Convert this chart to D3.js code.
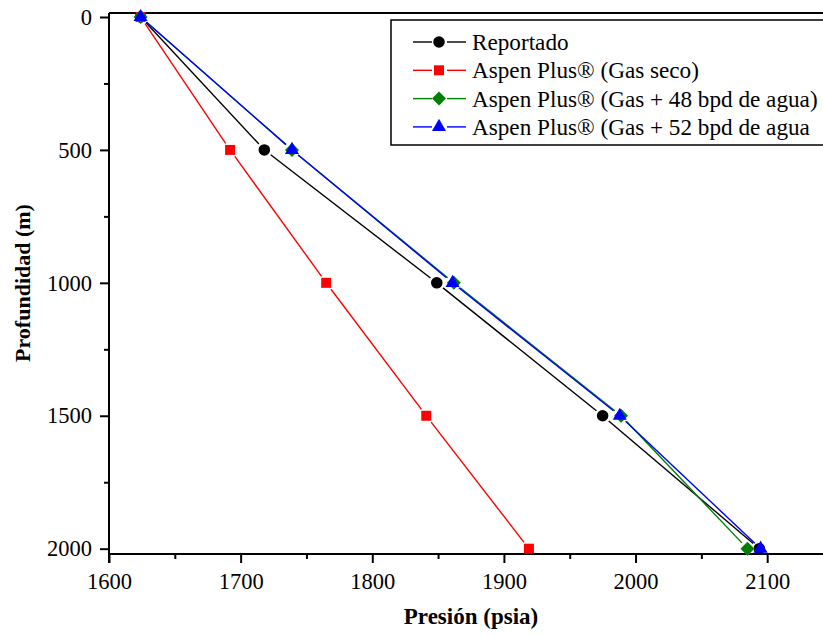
<!DOCTYPE html>
<html>
<head>
<meta charset="utf-8">
<script src="https://cdn.jsdelivr.net/npm/d3@7"></script>
<style>
  body { margin: 0; background: #fff; }
  svg { display: block; font-family: "Liberation Serif", "Times New Roman", serif; }
  .axis path, .axis line { stroke: #000; stroke-width: 2; }
  .axis text { font-size: 22.5px; fill: #000; font-family: "Liberation Serif", serif; }
  .title { font-weight: bold; }
  .legend text { font-size: 23.2px; }
</style>
</head>
<body>
<svg id="chart" width="823" height="636"></svg>
<script>
//depth (m) vs pressure (psia) for each series
var depths = [0, 500, 1000, 1500, 2000];
var reportado = [1624, 1718, 1849, 1975, 2094];
var gasSeco = [1624, 1692, 1765, 1841, 1919];
var gas48 = [1624, 1739, 1862, 1989, 2085];
var gas52 = [1624, 1739, 1861, 1988, 2095];

var seriesNames = ["Reportado", "Aspen Plus\u00ae (Gas seco)", "Aspen Plus\u00ae (Gas + 48 bpd de agua)", "Aspen Plus\u00ae (Gas + 52 bpd de agua"];
var seriesColors = ["#000000", "#ff0000", "#008000", "#0000ff"];
var seriesShapes = ["circle", "square", "diamond", "triangle"];
var seriesValues = [reportado, gasSeco, gas48, gas52];

var xTicks = [1600, 1700, 1800, 1900, 2000, 2100];
var yTicks = [0, 500, 1000, 1500, 2000];

var svg = d3.select("#chart");

let x = d3.scaleLinear().domain([1600, 2150]).range([109, 833]);
let y = d3.scaleLinear().domain([-15, 2020]).range([13, 554]);

//marker shapes (diamond = square turned 45deg)
let symbolFor = {
  circle: d3.symbol().type(d3.symbolCircle).size(105)(),
  square: d3.symbol().type(d3.symbolSquare).size(100)(),
  diamond: d3.symbol().type(d3.symbolSquare).size(98)(),
  triangle: d3.symbol().type(d3.symbolTriangle).size(85)()
};
let rotFor = {circle: 0, square: 0, diamond: 45, triangle: 0};

//top border line
svg.append("line")
  .attr("x1", x(1600)).attr("x2", x(2150))
  .attr("y1", y(-15)).attr("y2", y(-15))
  .attr("stroke", "#000").attr("stroke-width", 2);

//x axis (major + minor)
let xAxis = d3.axisBottom(x).tickValues(xTicks).tickSize(9).tickPadding(10).tickFormat(d3.format("d"));
let gx = svg.append("g").classed("axis", true)
  .attr("transform", "translate(0," + y(2020) + ")")
  .call(xAxis);
gx.select(".domain").attr("d", "M" + x(1600) + ",0H" + x(2150));
svg.append("g").classed("axis", true)
  .attr("transform", "translate(0," + y(2020) + ")")
  .call(d3.axisBottom(x).tickValues(d3.range(1650, 2150, 100)).tickSize(5).tickFormat(""))
  .select(".domain").remove();

//y axis (major + minor)
let yAxis = d3.axisLeft(y).tickValues(yTicks).tickSize(9).tickPadding(8).tickFormat(d3.format("d"));
let gy = svg.append("g").classed("axis", true)
  .attr("transform", "translate(" + x(1600) + ",0)")
  .call(yAxis);
gy.select(".domain").attr("d", "M0," + y(-15) + "V" + (y(2020) + 9));
svg.append("g").classed("axis", true)
  .attr("transform", "translate(" + x(1600) + ",0)")
  .call(d3.axisLeft(y).tickValues([250, 750, 1250, 1750]).tickSize(5).tickFormat(""))
  .select(".domain").remove();

//series lines, with a small gap around each marker
let gap = 8;
seriesValues.forEach(function(vals, i){
  let pts = vals.map((v, j) => [x(v), y(depths[j])]);
  let g = svg.append("g");
  for(let j = 0; j < pts.length - 1; j++){
    let a = pts[j], b = pts[j+1];
    let dx = b[0]-a[0], dy = b[1]-a[1];
    let len = Math.sqrt(dx*dx + dy*dy);
    let ux = dx/len, uy = dy/len;
    g.append("line")
      .attr("x1", a[0] + ux*gap).attr("y1", a[1] + uy*gap)
      .attr("x2", b[0] - ux*gap).attr("y2", b[1] - uy*gap)
      .attr("stroke", seriesColors[i]).attr("stroke-width", 1.4);
  }
  g.selectAll("path").data(pts).enter().append("path")
    .attr("d", symbolFor[seriesShapes[i]])
    .attr("transform", d => "translate(" + d[0] + "," + d[1] + ") rotate(" + rotFor[seriesShapes[i]] + ")")
    .attr("fill", seriesColors[i]);
});

//legend
let legend = svg.append("g").classed("legend", true);
legend.append("rect")
  .attr("x", 391).attr("y", 20).attr("width", 440).attr("height", 125)
  .attr("fill", "#fff").attr("stroke", "#000").attr("stroke-width", 1.5);
seriesNames.forEach(function(name, i){
  let ly = 42 + i*28.3;
  legend.append("line").attr("x1", 413).attr("x2", 432).attr("y1", ly).attr("y2", ly)
    .attr("stroke", seriesColors[i]).attr("stroke-width", 1.4);
  legend.append("line").attr("x1", 447).attr("x2", 466).attr("y1", ly).attr("y2", ly)
    .attr("stroke", seriesColors[i]).attr("stroke-width", 1.4);
  legend.append("path").attr("d", symbolFor[seriesShapes[i]])
    .attr("transform", "translate(439," + ly + ") rotate(" + rotFor[seriesShapes[i]] + ")")
    .attr("fill", seriesColors[i]);
  legend.append("text").attr("x", 472).attr("y", ly).attr("dy", "0.35em").text(name);
});

//axis titles
svg.append("text").classed("title", true)
  .attr("x", 471).attr("y", 624)
  .attr("font-size", "23px")
  .attr("text-anchor", "middle")
  .text("Presi\u00f3n (psia)");

svg.append("text").classed("title", true)
  .attr("transform", "translate(30,283) rotate(-90)")
  .attr("font-size", "22px")
  .attr("text-anchor", "middle")
  .text("Profundidad (m)");
</script>
</body>
</html>
